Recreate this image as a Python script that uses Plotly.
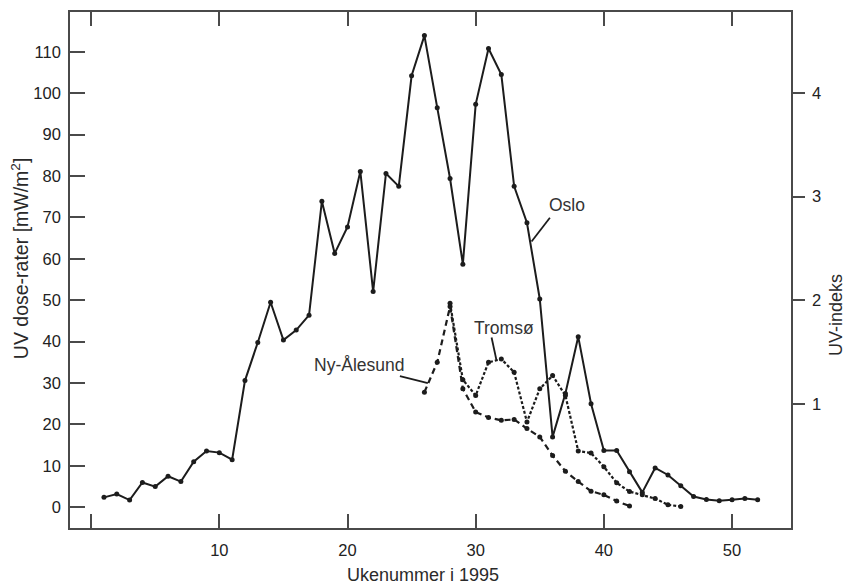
import plotly.graph_objects as go

# ---- data ----
oslo_weeks = list(range(1, 53))
oslo_values = [2.4, 3.2, 1.75, 6.0, 5.0, 7.5, 6.2, 11.0, 13.6, 13.2,
               11.5, 30.6, 39.8, 49.5, 40.4, 42.8, 46.4, 73.9, 61.3, 67.7,
               81.1, 52.1, 80.6, 77.5, 104.2, 113.9, 96.5, 79.4, 58.7, 97.3,
               110.8, 104.5, 77.5, 68.7, 50.3, 17.0, 27.5, 41.2, 25.0, 13.7,
               13.7, 8.6, 3.6, 9.5, 7.8, 5.2, 2.6, 1.9, 1.6, 1.8,
               2.1, 1.8]

tromso_weeks = list(range(28, 47))
tromso_values = [49.3, 30.8, 27.0, 35.0, 35.8, 32.6, 20.6, 28.6, 31.8, 27.0,
                 13.6, 13.1, 9.8, 5.9, 3.8, 3.0, 2.1, 0.6, 0.2]

ny_weeks = list(range(26, 43))
ny_values = [27.8, 35.0, 48.5, 28.6, 23.0, 21.7, 21.0, 21.2, 19.0, 17.0,
             12.5, 8.7, 6.2, 3.9, 3.0, 1.5, 0.3]

x_tickvals = [0, 10, 20, 30, 40, 50]
x_ticktext = [" ", "10", "20", "30", "40", "50"]
y_tickvals = [0, 10, 20, 30, 40, 50, 60, 70, 80, 90, 100, 110]
uv_tickvals = [1, 2, 3, 4]

x_title = "Ukenummer i 1995"
y_title = "UV dose-rater [mW/m<sup>2</sup>]"
y2_title = "UV-indeks"

# ---- style ----
INK = "#1c1c1c"
AXC = "#4a4a4a"
FONT = "Liberation Sans, Arial, sans-serif"
X_RANGE = [-1.65, 54.6]
Y_RANGE = [-5.0, 119.6]
UV_PER_MW = 25.0

fig = go.Figure()

fig.add_trace(go.Scatter(
    x=oslo_weeks, y=oslo_values, mode="lines+markers", name="Oslo",
    line=dict(color=INK, width=2),
    marker=dict(color=INK, size=5),
))
fig.add_trace(go.Scatter(
    x=tromso_weeks, y=tromso_values, mode="lines+markers", name="Tromsø",
    line=dict(color=INK, width=2.2, dash="3px,2px"),
    marker=dict(color=INK, size=5),
))
fig.add_trace(go.Scatter(
    x=ny_weeks, y=ny_values, mode="lines+markers", name="Ny-Ålesund",
    line=dict(color=INK, width=2.2, dash="6px,4px"),
    marker=dict(color=INK, size=5),
))
# invisible trace to activate the secondary (UV-index) axis
fig.add_trace(go.Scatter(x=[None], y=[None], yaxis="y2", showlegend=False,
                         hoverinfo="skip"))

# the page body has an 8px default margin, so the figure is sized to fit
fig.update_layout(
    width=844, height=576,
    margin=dict(l=62, r=61, t=2, b=56),
    paper_bgcolor="white", plot_bgcolor="white",
    showlegend=False,
    font=dict(family=FONT, color="#222222", size=16.5),
    xaxis=dict(
        range=X_RANGE, tickvals=x_tickvals, ticktext=x_ticktext,
        ticks="inside", ticklen=14, tickwidth=2, tickcolor=AXC,
        showline=True, linecolor=AXC, linewidth=1.6, mirror="ticks",
        showgrid=False, zeroline=False,
        tickfont=dict(size=16.5, color="#222222"),
        ticklabelstandoff=6,
    ),
    yaxis=dict(
        range=Y_RANGE, tickvals=y_tickvals,
        ticks="inside", ticklen=15, tickwidth=2, tickcolor=AXC,
        showline=True, linecolor=AXC, linewidth=1.6,
        showgrid=False, zeroline=False,
        tickfont=dict(size=16.5, color="#222222"),
        ticklabelstandoff=4,
    ),
    yaxis2=dict(
        overlaying="y", side="right",
        range=[Y_RANGE[0] / UV_PER_MW, Y_RANGE[1] / UV_PER_MW],
        tickvals=uv_tickvals,
        ticks="outside", ticklen=12, tickwidth=1.6, tickcolor=AXC,
        showline=True, linecolor=AXC, linewidth=1.6,
        showgrid=False, zeroline=False,
        tickfont=dict(size=16.5, color="#222222"),
        ticklabelstandoff=4,
    ),
)

# axis titles
fig.add_annotation(text=x_title, xref="paper", yref="paper", x=0.489, y=-0.0907,
                   xanchor="center", yanchor="middle", showarrow=False,
                   font=dict(size=18, color="#2a2a2a"))
fig.add_annotation(text=y_title, xref="paper", yref="paper", x=-0.0693, y=0.523,
                   xanchor="center", yanchor="middle", showarrow=False,
                   textangle=-90, font=dict(size=19.5, color="#2a2a2a"))
fig.add_annotation(text=y2_title, xref="paper", yref="paper", x=1.0625, y=0.413,
                   xanchor="center", yanchor="middle", showarrow=False,
                   textangle=-90, font=dict(size=18, color="#2a2a2a"))

# series labels with leader lines
labels = [
    ("Oslo", 37.15, 72.9, (35.79, 69.9, 34.36, 64.2)),
    ("Tromsø", 32.18, 43.3, (31.24, 41.0, 31.63, 35.4)),
    ("Ny-Ålesund", 20.89, 34.4, (24.09, 31.66, 26.27, 30.0)),
]
for txt, tx, ty, (x0, y0, x1, y1) in labels:
    fig.add_annotation(text=txt, x=tx, y=ty, xref="x", yref="y",
                       showarrow=False, xanchor="center", yanchor="middle",
                       font=dict(size=17.5, color="#333333"))
    fig.add_shape(type="line", xref="x", yref="y", x0=x0, y0=y0, x1=x1, y1=y1,
                  line=dict(color=INK, width=1.8))

fig.write_html("out.html")
